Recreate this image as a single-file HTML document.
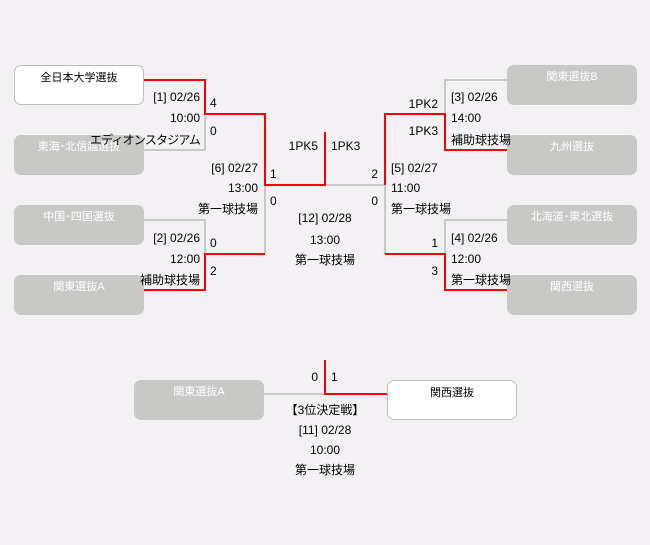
<!DOCTYPE html>
<html><head><meta charset="utf-8"><style>
body{margin:0;background:#f3f1f4;width:650px;height:545px;position:relative;overflow:hidden;font-family:"Liberation Sans","Noto Sans CJK JP",sans-serif;font-size:12px;color:#000}
.b{position:absolute;width:130px;height:40px;border-radius:7px;box-sizing:border-box;text-align:center;font-size:11px;line-height:14px;padding-top:5px}
.w{background:#fff;border:1px solid #bdbdbd;color:#000}
.g{background:#c8c9c6;color:#fff}
.t{position:absolute;white-space:nowrap;line-height:14px}
.r{text-align:right}
.c{text-align:center;width:120px}
svg{position:absolute;left:0;top:0}
</style></head><body>
<svg width="650" height="545">
<g fill="none" stroke-width="2">
<g stroke="#c8c9c6">
<polyline points="144,150 205,150 205,114"/>
<polyline points="144,220 205,220 205,254"/>
<polyline points="265,185 265,254"/>
<polyline points="325,185 385,185 385,254"/>
<polyline points="507,80 445,80 445,114"/>
<polyline points="507,220 445,220 445,254"/>
<polyline points="264,394 325,394"/>
</g>
<g stroke="#f00">
<polyline points="144,80 205,80 205,114 265,114 265,185 325,185 325,132"/>
<polyline points="144,290 205,290 205,254 265,254"/>
<polyline points="507,150 445,150 445,114 385,114 385,185"/>
<polyline points="507,290 445,290 445,254 385,254"/>
<polyline points="387,394 325,394 325,360"/>
</g></g></svg>
<div class="b w" style="left:14px;top:65px">全日本大学選抜</div>
<div class="b g" style="left:14px;top:135px">東海･北信越選抜</div>
<div class="b g" style="left:14px;top:205px">中国･四国選抜</div>
<div class="b g" style="left:14px;top:275px">関東選抜A</div>
<div class="b g" style="left:507px;top:65px">関東選抜B</div>
<div class="b g" style="left:507px;top:135px">九州選抜</div>
<div class="b g" style="left:507px;top:205px">北海道･東北選抜</div>
<div class="b g" style="left:507px;top:275px">関西選抜</div>
<div class="b g" style="left:134px;top:380px">関東選抜A</div>
<div class="b w" style="left:387px;top:380px">関西選抜</div>

<div class="t r" style="right:450px;top:90px">[1] 02/26</div>
<div class="t r" style="right:450px;top:111px">10:00</div>
<div class="t r" style="right:450px;top:133px;letter-spacing:-0.8px">エディオンスタジアム</div>
<div class="t" style="left:210px;top:96px">4</div>
<div class="t" style="left:210px;top:124px">0</div>
<div class="t r" style="right:392px;top:161px">[6] 02/27</div>
<div class="t r" style="right:392px;top:181px">13:00</div>
<div class="t r" style="right:392px;top:202px">第一球技場</div>
<div class="t" style="left:270px;top:167px">1</div>
<div class="t" style="left:270px;top:194px">0</div>
<div class="t r" style="right:332px;top:139px">1PK5</div>
<div class="t" style="left:331px;top:139px">1PK3</div>
<div class="t c" style="left:265px;top:211px">[12] 02/28</div>
<div class="t c" style="left:265px;top:233px">13:00</div>
<div class="t c" style="left:265px;top:253px">第一球技場</div>
<div class="t r" style="right:450px;top:231px">[2] 02/26</div>
<div class="t r" style="right:450px;top:252px">12:00</div>
<div class="t r" style="right:450px;top:273px">補助球技場</div>
<div class="t" style="left:210px;top:236px">0</div>
<div class="t" style="left:210px;top:264px">2</div>

<div class="t r" style="right:212px;top:97px">1PK2</div>
<div class="t r" style="right:212px;top:124px">1PK3</div>
<div class="t" style="left:451px;top:90px">[3] 02/26</div>
<div class="t" style="left:451px;top:111px">14:00</div>
<div class="t" style="left:451px;top:133px">補助球技場</div>
<div class="t r" style="right:272px;top:167px">2</div>
<div class="t r" style="right:272px;top:194px">0</div>
<div class="t" style="left:391px;top:161px">[5] 02/27</div>
<div class="t" style="left:391px;top:181px">11:00</div>
<div class="t" style="left:391px;top:202px">第一球技場</div>
<div class="t r" style="right:212px;top:236px">1</div>
<div class="t r" style="right:212px;top:264px">3</div>
<div class="t" style="left:451px;top:231px">[4] 02/26</div>
<div class="t" style="left:451px;top:252px">12:00</div>
<div class="t" style="left:451px;top:273px">第一球技場</div>

<div class="t r" style="right:332px;top:370px">0</div>
<div class="t" style="left:331px;top:370px">1</div>
<div class="t c" style="left:265px;top:403px">【3位決定戦】</div>
<div class="t c" style="left:265px;top:423px">[11] 02/28</div>
<div class="t c" style="left:265px;top:443px">10:00</div>
<div class="t c" style="left:265px;top:463px">第一球技場</div>
</body></html>
